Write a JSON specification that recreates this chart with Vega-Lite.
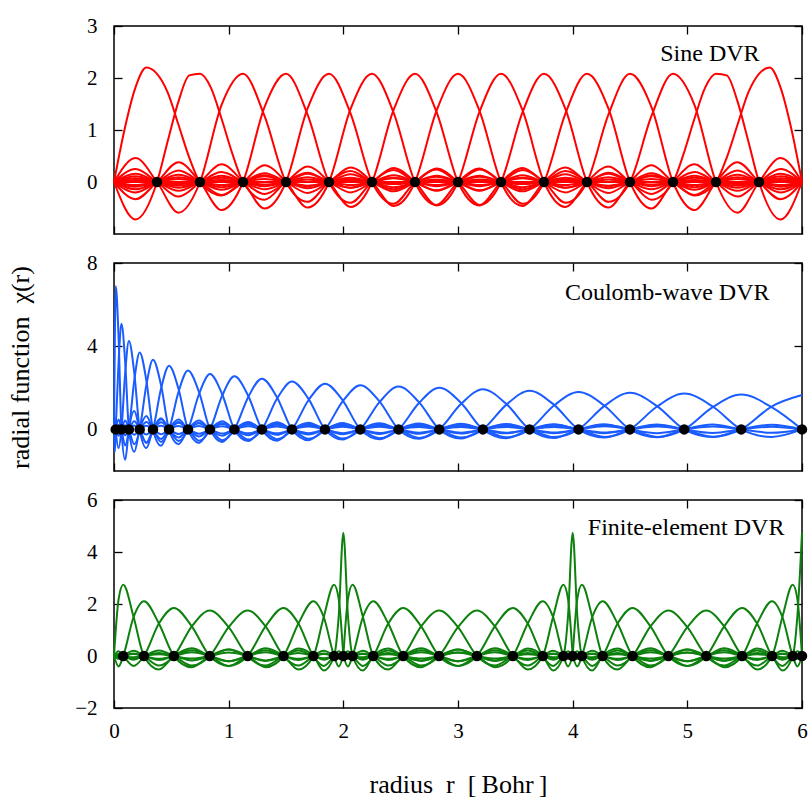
{
"padding": {"left": 6, "top": 14, "right": 4, "bottom": 4},
"config": {
 "view": {"stroke": "#000", "strokeWidth": 1.5},
 "font": "Liberation Serif",
 "axis": {"labelFont": "Liberation Serif", "titleFont": "Liberation Serif", "labelColor": "#000", "titleColor": "#000", "grid": false, "domain": false, "tickColor": "#000", "tickSize": -8, "tickWidth": 1.3, "labelFontSize": 21, "titleFontSize": 26, "titleFontWeight": "normal", "labelFlush": false}
},
"datasets": {
"s": [
{"f":1,"x":0,"y":0},{"f":1,"x":0.0938,"y":1.03},{"f":1,"x":0.1875,"y":1.82},{"f":1,"x":0.2813,"y":2.2},{"f":1,"x":0.375,"y":2.08},{"f":1,"x":0.4688,"y":1.72},{"f":1,"x":0.5625,"y":1.1},{"f":1,"x":0.6563,"y":0.47},{"f":1,"x":0.75,"y":0},{"f":1,"x":0.9375,"y":-0.26},{"f":1,"x":1.125,"y":0},{"f":1,"x":1.3125,"y":0.13},{"f":1,"x":1.5,"y":0},{"f":1,"x":1.6875,"y":-0.08},{"f":1,"x":1.875,"y":0},{"f":1,"x":2.0625,"y":0.05},{"f":1,"x":2.25,"y":0},{"f":1,"x":2.4375,"y":-0.04},{"f":1,"x":2.625,"y":0},{"f":1,"x":2.8125,"y":0.03},{"f":1,"x":3,"y":0},{"f":1,"x":6,"y":0},
{"f":2,"x":0,"y":0},{"f":2,"x":0.1875,"y":-0.72},{"f":2,"x":0.375,"y":0},{"f":2,"x":0.4688,"y":0.79},{"f":2,"x":0.5625,"y":1.55},{"f":2,"x":0.6563,"y":2.05},{"f":2,"x":0.75,"y":2.08},{"f":2,"x":0.8438,"y":1.82},{"f":2,"x":0.9375,"y":1.22},{"f":2,"x":1.0313,"y":0.55},{"f":2,"x":1.125,"y":0},{"f":2,"x":1.3125,"y":-0.34},{"f":2,"x":1.5,"y":0},{"f":2,"x":1.6875,"y":0.18},{"f":2,"x":1.875,"y":0},{"f":2,"x":2.0625,"y":-0.11},{"f":2,"x":2.25,"y":0},{"f":2,"x":2.4375,"y":0.08},{"f":2,"x":2.625,"y":0},{"f":2,"x":2.8125,"y":-0.06},{"f":2,"x":3,"y":0},{"f":2,"x":3.1875,"y":0.05},{"f":2,"x":3.375,"y":0},{"f":2,"x":3.5625,"y":-0.04},{"f":2,"x":3.75,"y":0},{"f":2,"x":3.9375,"y":0.04},{"f":2,"x":4.125,"y":0},{"f":2,"x":6,"y":0},
{"f":3,"x":0,"y":0},{"f":3,"x":0.1875,"y":0.46},{"f":3,"x":0.375,"y":0},{"f":3,"x":0.5625,"y":-0.59},{"f":3,"x":0.75,"y":0},{"f":3,"x":0.9375,"y":1.48},{"f":3,"x":1.125,"y":2.08},{"f":3,"x":1.3125,"y":1.27},{"f":3,"x":1.5,"y":0},{"f":3,"x":1.6875,"y":-0.38},{"f":3,"x":1.875,"y":0},{"f":3,"x":2.0625,"y":0.21},{"f":3,"x":2.25,"y":0},{"f":3,"x":2.4375,"y":-0.14},{"f":3,"x":2.625,"y":0},{"f":3,"x":2.8125,"y":0.1},{"f":3,"x":3,"y":0},{"f":3,"x":3.1875,"y":-0.08},{"f":3,"x":3.375,"y":0},{"f":3,"x":3.5625,"y":0.07},{"f":3,"x":3.75,"y":0},{"f":3,"x":3.9375,"y":-0.06},{"f":3,"x":4.125,"y":0},{"f":3,"x":4.3125,"y":0.05},{"f":3,"x":4.5,"y":0},{"f":3,"x":4.6875,"y":-0.05},{"f":3,"x":4.875,"y":0},{"f":3,"x":5.0625,"y":0.04},{"f":3,"x":5.25,"y":0},{"f":3,"x":5.4375,"y":-0.04},{"f":3,"x":5.625,"y":0},{"f":3,"x":5.8125,"y":0.04},{"f":3,"x":6,"y":0},
{"f":4,"x":0,"y":0},{"f":4,"x":0.1875,"y":-0.33},{"f":4,"x":0.375,"y":0},{"f":4,"x":0.5625,"y":0.38},{"f":4,"x":0.75,"y":0},{"f":4,"x":0.9375,"y":-0.54},{"f":4,"x":1.125,"y":0},{"f":4,"x":1.3125,"y":1.44},{"f":4,"x":1.5,"y":2.08},{"f":4,"x":1.6875,"y":1.3},{"f":4,"x":1.875,"y":0},{"f":4,"x":2.0625,"y":-0.4},{"f":4,"x":2.25,"y":0},{"f":4,"x":2.4375,"y":0.23},{"f":4,"x":2.625,"y":0},{"f":4,"x":2.8125,"y":-0.16},{"f":4,"x":3,"y":0},{"f":4,"x":3.1875,"y":0.12},{"f":4,"x":3.375,"y":0},{"f":4,"x":3.5625,"y":-0.1},{"f":4,"x":3.75,"y":0},{"f":4,"x":3.9375,"y":0.08},{"f":4,"x":4.125,"y":0},{"f":4,"x":4.3125,"y":-0.07},{"f":4,"x":4.5,"y":0},{"f":4,"x":4.6875,"y":0.06},{"f":4,"x":4.875,"y":0},{"f":4,"x":5.0625,"y":-0.06},{"f":4,"x":5.25,"y":0},{"f":4,"x":5.4375,"y":0.06},{"f":4,"x":5.625,"y":0},{"f":4,"x":5.8125,"y":-0.06},{"f":4,"x":6,"y":0},
{"f":5,"x":0,"y":0},{"f":5,"x":0.1875,"y":0.25},{"f":5,"x":0.375,"y":0},{"f":5,"x":0.5625,"y":-0.28},{"f":5,"x":0.75,"y":0},{"f":5,"x":0.9375,"y":0.34},{"f":5,"x":1.125,"y":0},{"f":5,"x":1.3125,"y":-0.51},{"f":5,"x":1.5,"y":0},{"f":5,"x":1.6875,"y":1.41},{"f":5,"x":1.875,"y":2.08},{"f":5,"x":2.0625,"y":1.32},{"f":5,"x":2.25,"y":0},{"f":5,"x":2.4375,"y":-0.42},{"f":5,"x":2.625,"y":0},{"f":5,"x":2.8125,"y":0.24},{"f":5,"x":3,"y":0},{"f":5,"x":3.1875,"y":-0.17},{"f":5,"x":3.375,"y":0},{"f":5,"x":3.5625,"y":0.13},{"f":5,"x":3.75,"y":0},{"f":5,"x":3.9375,"y":-0.11},{"f":5,"x":4.125,"y":0},{"f":5,"x":4.3125,"y":0.09},{"f":5,"x":4.5,"y":0},{"f":5,"x":4.6875,"y":-0.08},{"f":5,"x":4.875,"y":0},{"f":5,"x":5.0625,"y":0.08},{"f":5,"x":5.25,"y":0},{"f":5,"x":5.4375,"y":-0.07},{"f":5,"x":5.625,"y":0},{"f":5,"x":5.8125,"y":0.07},{"f":5,"x":6,"y":0},
{"f":6,"x":0,"y":0},{"f":6,"x":0.1875,"y":-0.2},{"f":6,"x":0.375,"y":0},{"f":6,"x":0.5625,"y":0.22},{"f":6,"x":0.75,"y":0},{"f":6,"x":0.9375,"y":-0.25},{"f":6,"x":1.125,"y":0},{"f":6,"x":1.3125,"y":0.32},{"f":6,"x":1.5,"y":0},{"f":6,"x":1.6875,"y":-0.49},{"f":6,"x":1.875,"y":0},{"f":6,"x":2.0625,"y":1.4},{"f":6,"x":2.25,"y":2.08},{"f":6,"x":2.4375,"y":1.34},{"f":6,"x":2.625,"y":0},{"f":6,"x":2.8125,"y":-0.44},{"f":6,"x":3,"y":0},{"f":6,"x":3.1875,"y":0.26},{"f":6,"x":3.375,"y":0},{"f":6,"x":3.5625,"y":-0.18},{"f":6,"x":3.75,"y":0},{"f":6,"x":3.9375,"y":0.15},{"f":6,"x":4.125,"y":0},{"f":6,"x":4.3125,"y":-0.12},{"f":6,"x":4.5,"y":0},{"f":6,"x":4.6875,"y":0.11},{"f":6,"x":4.875,"y":0},{"f":6,"x":5.0625,"y":-0.1},{"f":6,"x":5.25,"y":0},{"f":6,"x":5.4375,"y":0.09},{"f":6,"x":5.625,"y":0},{"f":6,"x":5.8125,"y":-0.09},{"f":6,"x":6,"y":0},
{"f":7,"x":0,"y":0},{"f":7,"x":0.1875,"y":0.16},{"f":7,"x":0.375,"y":0},{"f":7,"x":0.5625,"y":-0.17},{"f":7,"x":0.75,"y":0},{"f":7,"x":0.9375,"y":0.19},{"f":7,"x":1.125,"y":0},{"f":7,"x":1.3125,"y":-0.23},{"f":7,"x":1.5,"y":0},{"f":7,"x":1.6875,"y":0.3},{"f":7,"x":1.875,"y":0},{"f":7,"x":2.0625,"y":-0.48},{"f":7,"x":2.25,"y":0},{"f":7,"x":2.4375,"y":1.38},{"f":7,"x":2.625,"y":2.08},{"f":7,"x":2.8125,"y":1.35},{"f":7,"x":3,"y":0},{"f":7,"x":3.1875,"y":-0.45},{"f":7,"x":3.375,"y":0},{"f":7,"x":3.5625,"y":0.27},{"f":7,"x":3.75,"y":0},{"f":7,"x":3.9375,"y":-0.2},{"f":7,"x":4.125,"y":0},{"f":7,"x":4.3125,"y":0.16},{"f":7,"x":4.5,"y":0},{"f":7,"x":4.6875,"y":-0.14},{"f":7,"x":4.875,"y":0},{"f":7,"x":5.0625,"y":0.12},{"f":7,"x":5.25,"y":0},{"f":7,"x":5.4375,"y":-0.11},{"f":7,"x":5.625,"y":0},{"f":7,"x":5.8125,"y":0.11},{"f":7,"x":6,"y":0},
{"f":8,"x":0,"y":0},{"f":8,"x":0.1875,"y":-0.14},{"f":8,"x":0.375,"y":0},{"f":8,"x":0.5625,"y":0.14},{"f":8,"x":0.75,"y":0},{"f":8,"x":0.9375,"y":-0.15},{"f":8,"x":1.125,"y":0},{"f":8,"x":1.3125,"y":0.17},{"f":8,"x":1.5,"y":0},{"f":8,"x":1.6875,"y":-0.21},{"f":8,"x":1.875,"y":0},{"f":8,"x":2.0625,"y":0.28},{"f":8,"x":2.25,"y":0},{"f":8,"x":2.4375,"y":-0.46},{"f":8,"x":2.625,"y":0},{"f":8,"x":2.8125,"y":1.37},{"f":8,"x":3,"y":2.08},{"f":8,"x":3.1875,"y":1.37},{"f":8,"x":3.375,"y":0},{"f":8,"x":3.5625,"y":-0.46},{"f":8,"x":3.75,"y":0},{"f":8,"x":3.9375,"y":0.28},{"f":8,"x":4.125,"y":0},{"f":8,"x":4.3125,"y":-0.21},{"f":8,"x":4.5,"y":0},{"f":8,"x":4.6875,"y":0.17},{"f":8,"x":4.875,"y":0},{"f":8,"x":5.0625,"y":-0.15},{"f":8,"x":5.25,"y":0},{"f":8,"x":5.4375,"y":0.14},{"f":8,"x":5.625,"y":0},{"f":8,"x":5.8125,"y":-0.14},{"f":8,"x":6,"y":0},
{"f":9,"x":0,"y":0},{"f":9,"x":0.1875,"y":0.11},{"f":9,"x":0.375,"y":0},{"f":9,"x":0.5625,"y":-0.11},{"f":9,"x":0.75,"y":0},{"f":9,"x":0.9375,"y":0.12},{"f":9,"x":1.125,"y":0},{"f":9,"x":1.3125,"y":-0.14},{"f":9,"x":1.5,"y":0},{"f":9,"x":1.6875,"y":0.16},{"f":9,"x":1.875,"y":0},{"f":9,"x":2.0625,"y":-0.2},{"f":9,"x":2.25,"y":0},{"f":9,"x":2.4375,"y":0.27},{"f":9,"x":2.625,"y":0},{"f":9,"x":2.8125,"y":-0.45},{"f":9,"x":3,"y":0},{"f":9,"x":3.1875,"y":1.35},{"f":9,"x":3.375,"y":2.08},{"f":9,"x":3.5625,"y":1.38},{"f":9,"x":3.75,"y":0},{"f":9,"x":3.9375,"y":-0.48},{"f":9,"x":4.125,"y":0},{"f":9,"x":4.3125,"y":0.3},{"f":9,"x":4.5,"y":0},{"f":9,"x":4.6875,"y":-0.23},{"f":9,"x":4.875,"y":0},{"f":9,"x":5.0625,"y":0.19},{"f":9,"x":5.25,"y":0},{"f":9,"x":5.4375,"y":-0.17},{"f":9,"x":5.625,"y":0},{"f":9,"x":5.8125,"y":0.16},{"f":9,"x":6,"y":0},
{"f":10,"x":0,"y":0},{"f":10,"x":0.1875,"y":-0.09},{"f":10,"x":0.375,"y":0},{"f":10,"x":0.5625,"y":0.09},{"f":10,"x":0.75,"y":0},{"f":10,"x":0.9375,"y":-0.1},{"f":10,"x":1.125,"y":0},{"f":10,"x":1.3125,"y":0.11},{"f":10,"x":1.5,"y":0},{"f":10,"x":1.6875,"y":-0.12},{"f":10,"x":1.875,"y":0},{"f":10,"x":2.0625,"y":0.15},{"f":10,"x":2.25,"y":0},{"f":10,"x":2.4375,"y":-0.18},{"f":10,"x":2.625,"y":0},{"f":10,"x":2.8125,"y":0.26},{"f":10,"x":3,"y":0},{"f":10,"x":3.1875,"y":-0.44},{"f":10,"x":3.375,"y":0},{"f":10,"x":3.5625,"y":1.34},{"f":10,"x":3.75,"y":2.08},{"f":10,"x":3.9375,"y":1.4},{"f":10,"x":4.125,"y":0},{"f":10,"x":4.3125,"y":-0.49},{"f":10,"x":4.5,"y":0},{"f":10,"x":4.6875,"y":0.32},{"f":10,"x":4.875,"y":0},{"f":10,"x":5.0625,"y":-0.25},{"f":10,"x":5.25,"y":0},{"f":10,"x":5.4375,"y":0.22},{"f":10,"x":5.625,"y":0},{"f":10,"x":5.8125,"y":-0.2},{"f":10,"x":6,"y":0},
{"f":11,"x":0,"y":0},{"f":11,"x":0.1875,"y":0.07},{"f":11,"x":0.375,"y":0},{"f":11,"x":0.5625,"y":-0.07},{"f":11,"x":0.75,"y":0},{"f":11,"x":0.9375,"y":0.08},{"f":11,"x":1.125,"y":0},{"f":11,"x":1.3125,"y":-0.08},{"f":11,"x":1.5,"y":0},{"f":11,"x":1.6875,"y":0.09},{"f":11,"x":1.875,"y":0},{"f":11,"x":2.0625,"y":-0.11},{"f":11,"x":2.25,"y":0},{"f":11,"x":2.4375,"y":0.13},{"f":11,"x":2.625,"y":0},{"f":11,"x":2.8125,"y":-0.17},{"f":11,"x":3,"y":0},{"f":11,"x":3.1875,"y":0.24},{"f":11,"x":3.375,"y":0},{"f":11,"x":3.5625,"y":-0.42},{"f":11,"x":3.75,"y":0},{"f":11,"x":3.9375,"y":1.32},{"f":11,"x":4.125,"y":2.08},{"f":11,"x":4.3125,"y":1.41},{"f":11,"x":4.5,"y":0},{"f":11,"x":4.6875,"y":-0.51},{"f":11,"x":4.875,"y":0},{"f":11,"x":5.0625,"y":0.34},{"f":11,"x":5.25,"y":0},{"f":11,"x":5.4375,"y":-0.28},{"f":11,"x":5.625,"y":0},{"f":11,"x":5.8125,"y":0.25},{"f":11,"x":6,"y":0},
{"f":12,"x":0,"y":0},{"f":12,"x":0.1875,"y":-0.06},{"f":12,"x":0.375,"y":0},{"f":12,"x":0.5625,"y":0.06},{"f":12,"x":0.75,"y":0},{"f":12,"x":0.9375,"y":-0.06},{"f":12,"x":1.125,"y":0},{"f":12,"x":1.3125,"y":0.06},{"f":12,"x":1.5,"y":0},{"f":12,"x":1.6875,"y":-0.07},{"f":12,"x":1.875,"y":0},{"f":12,"x":2.0625,"y":0.08},{"f":12,"x":2.25,"y":0},{"f":12,"x":2.4375,"y":-0.1},{"f":12,"x":2.625,"y":0},{"f":12,"x":2.8125,"y":0.12},{"f":12,"x":3,"y":0},{"f":12,"x":3.1875,"y":-0.16},{"f":12,"x":3.375,"y":0},{"f":12,"x":3.5625,"y":0.23},{"f":12,"x":3.75,"y":0},{"f":12,"x":3.9375,"y":-0.4},{"f":12,"x":4.125,"y":0},{"f":12,"x":4.3125,"y":1.3},{"f":12,"x":4.5,"y":2.08},{"f":12,"x":4.6875,"y":1.44},{"f":12,"x":4.875,"y":0},{"f":12,"x":5.0625,"y":-0.54},{"f":12,"x":5.25,"y":0},{"f":12,"x":5.4375,"y":0.38},{"f":12,"x":5.625,"y":0},{"f":12,"x":5.8125,"y":-0.33},{"f":12,"x":6,"y":0},
{"f":13,"x":0,"y":0},{"f":13,"x":0.1875,"y":0.04},{"f":13,"x":0.375,"y":0},{"f":13,"x":0.5625,"y":-0.04},{"f":13,"x":0.75,"y":0},{"f":13,"x":0.9375,"y":0.04},{"f":13,"x":1.125,"y":0},{"f":13,"x":1.3125,"y":-0.05},{"f":13,"x":1.5,"y":0},{"f":13,"x":1.6875,"y":0.05},{"f":13,"x":1.875,"y":0},{"f":13,"x":2.0625,"y":-0.06},{"f":13,"x":2.25,"y":0},{"f":13,"x":2.4375,"y":0.07},{"f":13,"x":2.625,"y":0},{"f":13,"x":2.8125,"y":-0.08},{"f":13,"x":3,"y":0},{"f":13,"x":3.1875,"y":0.1},{"f":13,"x":3.375,"y":0},{"f":13,"x":3.5625,"y":-0.14},{"f":13,"x":3.75,"y":0},{"f":13,"x":3.9375,"y":0.21},{"f":13,"x":4.125,"y":0},{"f":13,"x":4.3125,"y":-0.38},{"f":13,"x":4.5,"y":0},{"f":13,"x":4.6875,"y":1.27},{"f":13,"x":4.875,"y":2.08},{"f":13,"x":5.0625,"y":1.48},{"f":13,"x":5.25,"y":0},{"f":13,"x":5.4375,"y":-0.59},{"f":13,"x":5.625,"y":0},{"f":13,"x":5.8125,"y":0.46},{"f":13,"x":6,"y":0},
{"f":14,"x":0,"y":0},{"f":14,"x":1.875,"y":0},{"f":14,"x":2.0625,"y":0.04},{"f":14,"x":2.25,"y":0},{"f":14,"x":2.4375,"y":-0.04},{"f":14,"x":2.625,"y":0},{"f":14,"x":2.8125,"y":0.05},{"f":14,"x":3,"y":0},{"f":14,"x":3.1875,"y":-0.06},{"f":14,"x":3.375,"y":0},{"f":14,"x":3.5625,"y":0.08},{"f":14,"x":3.75,"y":0},{"f":14,"x":3.9375,"y":-0.11},{"f":14,"x":4.125,"y":0},{"f":14,"x":4.3125,"y":0.18},{"f":14,"x":4.5,"y":0},{"f":14,"x":4.6875,"y":-0.34},{"f":14,"x":4.875,"y":0},{"f":14,"x":4.9688,"y":0.55},{"f":14,"x":5.0625,"y":1.22},{"f":14,"x":5.1563,"y":1.82},{"f":14,"x":5.25,"y":2.08},{"f":14,"x":5.3438,"y":2.05},{"f":14,"x":5.4375,"y":1.55},{"f":14,"x":5.5313,"y":0.79},{"f":14,"x":5.625,"y":0},{"f":14,"x":5.8125,"y":-0.72},{"f":14,"x":6,"y":0},
{"f":15,"x":0,"y":0},{"f":15,"x":3,"y":0},{"f":15,"x":3.1875,"y":0.03},{"f":15,"x":3.375,"y":0},{"f":15,"x":3.5625,"y":-0.04},{"f":15,"x":3.75,"y":0},{"f":15,"x":3.9375,"y":0.05},{"f":15,"x":4.125,"y":0},{"f":15,"x":4.3125,"y":-0.08},{"f":15,"x":4.5,"y":0},{"f":15,"x":4.6875,"y":0.13},{"f":15,"x":4.875,"y":0},{"f":15,"x":5.0625,"y":-0.26},{"f":15,"x":5.25,"y":0},{"f":15,"x":5.3438,"y":0.47},{"f":15,"x":5.4375,"y":1.1},{"f":15,"x":5.5313,"y":1.72},{"f":15,"x":5.625,"y":2.08},{"f":15,"x":5.7188,"y":2.2},{"f":15,"x":5.8125,"y":1.82},{"f":15,"x":5.9063,"y":1.03},{"f":15,"x":6,"y":0}
],
"sg": [{"x":0.375,"y":0},{"x":0.75,"y":0},{"x":1.125,"y":0},{"x":1.5,"y":0},{"x":1.875,"y":0},{"x":2.25,"y":0},{"x":2.625,"y":0},{"x":3,"y":0},{"x":3.375,"y":0},{"x":3.75,"y":0},{"x":4.125,"y":0},{"x":4.5,"y":0},{"x":4.875,"y":0},{"x":5.25,"y":0},{"x":5.625,"y":0}],
"c": [
{"f":1,"x":0,"y":0},{"f":1,"x":0.0075,"y":4.4},{"f":1,"x":0.015,"y":6.9},{"f":1,"x":0.04,"y":4.4},{"f":1,"x":0.065,"y":0},{"f":1,"x":0.0975,"y":-1.46},{"f":1,"x":0.13,"y":0},{"f":1,"x":0.177,"y":0.88},{"f":1,"x":0.224,"y":0},{"f":1,"x":0.282,"y":-0.63},{"f":1,"x":0.34,"y":0},{"f":1,"x":0.41,"y":0.49},{"f":1,"x":0.48,"y":0},
{"f":2,"x":0,"y":0},{"f":2,"x":0.0075,"y":-1.08},{"f":2,"x":0.015,"y":0},{"f":2,"x":0.04,"y":3.24},{"f":2,"x":0.065,"y":5.08},{"f":2,"x":0.0975,"y":3.24},{"f":2,"x":0.13,"y":0},{"f":2,"x":0.177,"y":-1.08},{"f":2,"x":0.224,"y":0},{"f":2,"x":0.282,"y":0.65},{"f":2,"x":0.34,"y":0},{"f":2,"x":0.41,"y":-0.46},{"f":2,"x":0.48,"y":0},{"f":2,"x":0.5625,"y":0.36},{"f":2,"x":0.645,"y":0},
{"f":3,"x":0,"y":0},{"f":3,"x":0.0075,"y":0.54},{"f":3,"x":0.015,"y":0},{"f":3,"x":0.04,"y":-0.9},{"f":3,"x":0.065,"y":0},{"f":3,"x":0.0975,"y":2.71},{"f":3,"x":0.13,"y":4.25},{"f":3,"x":0.177,"y":2.71},{"f":3,"x":0.224,"y":0},{"f":3,"x":0.282,"y":-0.9},{"f":3,"x":0.34,"y":0},{"f":3,"x":0.41,"y":0.54},{"f":3,"x":0.48,"y":0},{"f":3,"x":0.5625,"y":-0.39},{"f":3,"x":0.645,"y":0},{"f":3,"x":0.741,"y":0.3},{"f":3,"x":0.837,"y":0},
{"f":4,"x":0.015,"y":0},{"f":4,"x":0.04,"y":0.47},{"f":4,"x":0.065,"y":0},{"f":4,"x":0.0975,"y":-0.78},{"f":4,"x":0.13,"y":0},{"f":4,"x":0.177,"y":2.36},{"f":4,"x":0.224,"y":3.7},{"f":4,"x":0.282,"y":2.36},{"f":4,"x":0.34,"y":0},{"f":4,"x":0.41,"y":-0.78},{"f":4,"x":0.48,"y":0},{"f":4,"x":0.5625,"y":0.47},{"f":4,"x":0.645,"y":0},{"f":4,"x":0.741,"y":-0.34},{"f":4,"x":0.837,"y":0},{"f":4,"x":0.9435,"y":0.26},{"f":4,"x":1.05,"y":0},
{"f":5,"x":0.015,"y":0},{"f":5,"x":0.04,"y":-0.3},{"f":5,"x":0.065,"y":0},{"f":5,"x":0.0975,"y":0.43},{"f":5,"x":0.13,"y":0},{"f":5,"x":0.177,"y":-0.71},{"f":5,"x":0.224,"y":0},{"f":5,"x":0.282,"y":2.13},{"f":5,"x":0.34,"y":3.35},{"f":5,"x":0.41,"y":2.13},{"f":5,"x":0.48,"y":0},{"f":5,"x":0.5625,"y":-0.71},{"f":5,"x":0.645,"y":0},{"f":5,"x":0.741,"y":0.43},{"f":5,"x":0.837,"y":0},{"f":5,"x":0.9435,"y":-0.3},{"f":5,"x":1.05,"y":0},{"f":5,"x":1.17,"y":0.24},{"f":5,"x":1.29,"y":0},
{"f":6,"x":0.015,"y":0},{"f":6,"x":0.04,"y":0.22},{"f":6,"x":0.065,"y":0},{"f":6,"x":0.0975,"y":-0.28},{"f":6,"x":0.13,"y":0},{"f":6,"x":0.177,"y":0.39},{"f":6,"x":0.224,"y":0},{"f":6,"x":0.282,"y":-0.65},{"f":6,"x":0.34,"y":0},{"f":6,"x":0.41,"y":1.95},{"f":6,"x":0.48,"y":3.06},{"f":6,"x":0.5625,"y":1.95},{"f":6,"x":0.645,"y":0},{"f":6,"x":0.741,"y":-0.65},{"f":6,"x":0.837,"y":0},{"f":6,"x":0.9435,"y":0.39},{"f":6,"x":1.05,"y":0},{"f":6,"x":1.17,"y":-0.28},{"f":6,"x":1.29,"y":0},{"f":6,"x":1.421,"y":0.22},{"f":6,"x":1.552,"y":0},
{"f":7,"x":0.065,"y":0},{"f":7,"x":0.0975,"y":0.2},{"f":7,"x":0.13,"y":0},{"f":7,"x":0.177,"y":-0.26},{"f":7,"x":0.224,"y":0},{"f":7,"x":0.282,"y":0.36},{"f":7,"x":0.34,"y":0},{"f":7,"x":0.41,"y":-0.6},{"f":7,"x":0.48,"y":0},{"f":7,"x":0.5625,"y":1.8},{"f":7,"x":0.645,"y":2.83},{"f":7,"x":0.741,"y":1.8},{"f":7,"x":0.837,"y":0},{"f":7,"x":0.9435,"y":-0.6},{"f":7,"x":1.05,"y":0},{"f":7,"x":1.17,"y":0.36},{"f":7,"x":1.29,"y":0},{"f":7,"x":1.421,"y":-0.26},{"f":7,"x":1.552,"y":0},{"f":7,"x":1.696,"y":0.2},{"f":7,"x":1.84,"y":0},
{"f":8,"x":0.13,"y":0},{"f":8,"x":0.177,"y":0.19},{"f":8,"x":0.224,"y":0},{"f":8,"x":0.282,"y":-0.24},{"f":8,"x":0.34,"y":0},{"f":8,"x":0.41,"y":0.34},{"f":8,"x":0.48,"y":0},{"f":8,"x":0.5625,"y":-0.56},{"f":8,"x":0.645,"y":0},{"f":8,"x":0.741,"y":1.69},{"f":8,"x":0.837,"y":2.66},{"f":8,"x":0.9435,"y":1.69},{"f":8,"x":1.05,"y":0},{"f":8,"x":1.17,"y":-0.56},{"f":8,"x":1.29,"y":0},{"f":8,"x":1.421,"y":0.34},{"f":8,"x":1.552,"y":0},{"f":8,"x":1.696,"y":-0.24},{"f":8,"x":1.84,"y":0},{"f":8,"x":1.994,"y":0.19},{"f":8,"x":2.148,"y":0},
{"f":9,"x":0.224,"y":0},{"f":9,"x":0.282,"y":0.18},{"f":9,"x":0.34,"y":0},{"f":9,"x":0.41,"y":-0.23},{"f":9,"x":0.48,"y":0},{"f":9,"x":0.5625,"y":0.32},{"f":9,"x":0.645,"y":0},{"f":9,"x":0.741,"y":-0.54},{"f":9,"x":0.837,"y":0},{"f":9,"x":0.9435,"y":1.62},{"f":9,"x":1.05,"y":2.55},{"f":9,"x":1.17,"y":1.62},{"f":9,"x":1.29,"y":0},{"f":9,"x":1.421,"y":-0.54},{"f":9,"x":1.552,"y":0},{"f":9,"x":1.696,"y":0.32},{"f":9,"x":1.84,"y":0},{"f":9,"x":1.994,"y":-0.23},{"f":9,"x":2.148,"y":0},{"f":9,"x":2.315,"y":0.18},{"f":9,"x":2.482,"y":0},
{"f":10,"x":0.34,"y":0},{"f":10,"x":0.41,"y":0.17},{"f":10,"x":0.48,"y":0},{"f":10,"x":0.5625,"y":-0.22},{"f":10,"x":0.645,"y":0},{"f":10,"x":0.741,"y":0.31},{"f":10,"x":0.837,"y":0},{"f":10,"x":0.9435,"y":-0.52},{"f":10,"x":1.05,"y":0},{"f":10,"x":1.17,"y":1.55},{"f":10,"x":1.29,"y":2.44},{"f":10,"x":1.421,"y":1.55},{"f":10,"x":1.552,"y":0},{"f":10,"x":1.696,"y":-0.52},{"f":10,"x":1.84,"y":0},{"f":10,"x":1.994,"y":0.31},{"f":10,"x":2.148,"y":0},{"f":10,"x":2.315,"y":-0.22},{"f":10,"x":2.482,"y":0},{"f":10,"x":2.6595,"y":0.17},{"f":10,"x":2.837,"y":0},
{"f":11,"x":0.48,"y":0},{"f":11,"x":0.5625,"y":0.16},{"f":11,"x":0.645,"y":0},{"f":11,"x":0.741,"y":-0.21},{"f":11,"x":0.837,"y":0},{"f":11,"x":0.9435,"y":0.29},{"f":11,"x":1.05,"y":0},{"f":11,"x":1.17,"y":-0.49},{"f":11,"x":1.29,"y":0},{"f":11,"x":1.421,"y":1.47},{"f":11,"x":1.552,"y":2.3},{"f":11,"x":1.696,"y":1.47},{"f":11,"x":1.84,"y":0},{"f":11,"x":1.994,"y":-0.49},{"f":11,"x":2.148,"y":0},{"f":11,"x":2.315,"y":0.29},{"f":11,"x":2.482,"y":0},{"f":11,"x":2.6595,"y":-0.21},{"f":11,"x":2.837,"y":0},{"f":11,"x":3.027,"y":0.16},{"f":11,"x":3.217,"y":0},
{"f":12,"x":0.645,"y":0},{"f":12,"x":0.741,"y":0.16},{"f":12,"x":0.837,"y":0},{"f":12,"x":0.9435,"y":-0.2},{"f":12,"x":1.05,"y":0},{"f":12,"x":1.17,"y":0.28},{"f":12,"x":1.29,"y":0},{"f":12,"x":1.421,"y":-0.47},{"f":12,"x":1.552,"y":0},{"f":12,"x":1.696,"y":1.4},{"f":12,"x":1.84,"y":2.2},{"f":12,"x":1.994,"y":1.4},{"f":12,"x":2.148,"y":0},{"f":12,"x":2.315,"y":-0.47},{"f":12,"x":2.482,"y":0},{"f":12,"x":2.6595,"y":0.28},{"f":12,"x":2.837,"y":0},{"f":12,"x":3.027,"y":-0.2},{"f":12,"x":3.217,"y":0},{"f":12,"x":3.4205,"y":0.16},{"f":12,"x":3.624,"y":0},
{"f":13,"x":0.837,"y":0},{"f":13,"x":0.9435,"y":0.15},{"f":13,"x":1.05,"y":0},{"f":13,"x":1.17,"y":-0.19},{"f":13,"x":1.29,"y":0},{"f":13,"x":1.421,"y":0.27},{"f":13,"x":1.552,"y":0},{"f":13,"x":1.696,"y":-0.45},{"f":13,"x":1.84,"y":0},{"f":13,"x":1.994,"y":1.35},{"f":13,"x":2.148,"y":2.12},{"f":13,"x":2.315,"y":1.35},{"f":13,"x":2.482,"y":0},{"f":13,"x":2.6595,"y":-0.45},{"f":13,"x":2.837,"y":0},{"f":13,"x":3.027,"y":0.27},{"f":13,"x":3.217,"y":0},{"f":13,"x":3.4205,"y":-0.19},{"f":13,"x":3.624,"y":0},{"f":13,"x":3.8375,"y":0.15},{"f":13,"x":4.051,"y":0},
{"f":14,"x":1.05,"y":0},{"f":14,"x":1.17,"y":0.15},{"f":14,"x":1.29,"y":0},{"f":14,"x":1.421,"y":-0.19},{"f":14,"x":1.552,"y":0},{"f":14,"x":1.696,"y":0.26},{"f":14,"x":1.84,"y":0},{"f":14,"x":1.994,"y":-0.44},{"f":14,"x":2.148,"y":0},{"f":14,"x":2.315,"y":1.31},{"f":14,"x":2.482,"y":2.06},{"f":14,"x":2.6595,"y":1.31},{"f":14,"x":2.837,"y":0},{"f":14,"x":3.027,"y":-0.44},{"f":14,"x":3.217,"y":0},{"f":14,"x":3.4205,"y":0.26},{"f":14,"x":3.624,"y":0},{"f":14,"x":3.8375,"y":-0.19},{"f":14,"x":4.051,"y":0},{"f":14,"x":4.275,"y":0.15},{"f":14,"x":4.499,"y":0},
{"f":15,"x":1.29,"y":0},{"f":15,"x":1.421,"y":0.14},{"f":15,"x":1.552,"y":0},{"f":15,"x":1.696,"y":-0.18},{"f":15,"x":1.84,"y":0},{"f":15,"x":1.994,"y":0.25},{"f":15,"x":2.148,"y":0},{"f":15,"x":2.315,"y":-0.42},{"f":15,"x":2.482,"y":0},{"f":15,"x":2.6595,"y":1.27},{"f":15,"x":2.837,"y":2.0},{"f":15,"x":3.027,"y":1.27},{"f":15,"x":3.217,"y":0},{"f":15,"x":3.4205,"y":-0.42},{"f":15,"x":3.624,"y":0},{"f":15,"x":3.8375,"y":0.25},{"f":15,"x":4.051,"y":0},{"f":15,"x":4.275,"y":-0.18},{"f":15,"x":4.499,"y":0},{"f":15,"x":4.736,"y":0.14},{"f":15,"x":4.973,"y":0},
{"f":16,"x":1.552,"y":0},{"f":16,"x":1.696,"y":0.14},{"f":16,"x":1.84,"y":0},{"f":16,"x":1.994,"y":-0.18},{"f":16,"x":2.148,"y":0},{"f":16,"x":2.315,"y":0.25},{"f":16,"x":2.482,"y":0},{"f":16,"x":2.6595,"y":-0.41},{"f":16,"x":2.837,"y":0},{"f":16,"x":3.027,"y":1.23},{"f":16,"x":3.217,"y":1.93},{"f":16,"x":3.4205,"y":1.23},{"f":16,"x":3.624,"y":0},{"f":16,"x":3.8375,"y":-0.41},{"f":16,"x":4.051,"y":0},{"f":16,"x":4.275,"y":0.25},{"f":16,"x":4.499,"y":0},{"f":16,"x":4.736,"y":-0.18},{"f":16,"x":4.973,"y":0},{"f":16,"x":5.2215,"y":0.14},{"f":16,"x":5.47,"y":0},
{"f":17,"x":1.84,"y":0},{"f":17,"x":1.994,"y":0.13},{"f":17,"x":2.148,"y":0},{"f":17,"x":2.315,"y":-0.17},{"f":17,"x":2.482,"y":0},{"f":17,"x":2.6595,"y":0.24},{"f":17,"x":2.837,"y":0},{"f":17,"x":3.027,"y":-0.39},{"f":17,"x":3.217,"y":0},{"f":17,"x":3.4205,"y":1.18},{"f":17,"x":3.624,"y":1.86},{"f":17,"x":3.8375,"y":1.18},{"f":17,"x":4.051,"y":0},{"f":17,"x":4.275,"y":-0.39},{"f":17,"x":4.499,"y":0},{"f":17,"x":4.736,"y":0.24},{"f":17,"x":4.973,"y":0},{"f":17,"x":5.2215,"y":-0.17},{"f":17,"x":5.47,"y":0},{"f":17,"x":5.735,"y":0.13},{"f":17,"x":6,"y":0},
{"f":18,"x":2.148,"y":0},{"f":18,"x":2.315,"y":0.13},{"f":18,"x":2.482,"y":0},{"f":18,"x":2.6595,"y":-0.16},{"f":18,"x":2.837,"y":0},{"f":18,"x":3.027,"y":0.23},{"f":18,"x":3.217,"y":0},{"f":18,"x":3.4205,"y":-0.38},{"f":18,"x":3.624,"y":0},{"f":18,"x":3.8375,"y":1.15},{"f":18,"x":4.051,"y":1.8},{"f":18,"x":4.275,"y":1.15},{"f":18,"x":4.499,"y":0},{"f":18,"x":4.736,"y":-0.38},{"f":18,"x":4.973,"y":0},{"f":18,"x":5.2215,"y":0.23},{"f":18,"x":5.47,"y":0},{"f":18,"x":5.735,"y":-0.16},{"f":18,"x":6,"y":0},
{"f":19,"x":2.482,"y":0},{"f":19,"x":2.6595,"y":0.12},{"f":19,"x":2.837,"y":0},{"f":19,"x":3.027,"y":-0.16},{"f":19,"x":3.217,"y":0},{"f":19,"x":3.4205,"y":0.22},{"f":19,"x":3.624,"y":0},{"f":19,"x":3.8375,"y":-0.37},{"f":19,"x":4.051,"y":0},{"f":19,"x":4.275,"y":1.12},{"f":19,"x":4.499,"y":1.76},{"f":19,"x":4.736,"y":1.12},{"f":19,"x":4.973,"y":0},{"f":19,"x":5.2215,"y":-0.37},{"f":19,"x":5.47,"y":0},{"f":19,"x":5.735,"y":0.22},{"f":19,"x":6,"y":0},
{"f":20,"x":2.837,"y":0},{"f":20,"x":3.027,"y":0.12},{"f":20,"x":3.217,"y":0},{"f":20,"x":3.4205,"y":-0.16},{"f":20,"x":3.624,"y":0},{"f":20,"x":3.8375,"y":0.22},{"f":20,"x":4.051,"y":0},{"f":20,"x":4.275,"y":-0.36},{"f":20,"x":4.499,"y":0},{"f":20,"x":4.736,"y":1.1},{"f":20,"x":4.973,"y":1.72},{"f":20,"x":5.2215,"y":1.1},{"f":20,"x":5.47,"y":0},{"f":20,"x":5.735,"y":-0.36},{"f":20,"x":6,"y":0},
{"f":21,"x":3.217,"y":0},{"f":21,"x":3.4205,"y":0.12},{"f":21,"x":3.624,"y":0},{"f":21,"x":3.8375,"y":-0.15},{"f":21,"x":4.051,"y":0},{"f":21,"x":4.275,"y":0.21},{"f":21,"x":4.499,"y":0},{"f":21,"x":4.736,"y":-0.36},{"f":21,"x":4.973,"y":0},{"f":21,"x":5.2215,"y":1.07},{"f":21,"x":5.47,"y":1.68},{"f":21,"x":5.735,"y":1.07},{"f":21,"x":6,"y":0},
{"f":22,"x":3.624,"y":0},{"f":22,"x":3.8375,"y":0.12},{"f":22,"x":4.051,"y":0},{"f":22,"x":4.275,"y":-0.15},{"f":22,"x":4.499,"y":0},{"f":22,"x":4.736,"y":0.21},{"f":22,"x":4.973,"y":0},{"f":22,"x":5.2215,"y":-0.35},{"f":22,"x":5.47,"y":0},{"f":22,"x":5.735,"y":1.1},{"f":22,"x":6,"y":1.65}
],
"cg": [{"x":0.015,"y":0},{"x":0.065,"y":0},{"x":0.13,"y":0},{"x":0.224,"y":0},{"x":0.34,"y":0},{"x":0.48,"y":0},{"x":0.645,"y":0},{"x":0.837,"y":0},{"x":1.05,"y":0},{"x":1.29,"y":0},{"x":1.552,"y":0},{"x":1.84,"y":0},{"x":2.148,"y":0},{"x":2.482,"y":0},{"x":2.837,"y":0},{"x":3.217,"y":0},{"x":3.624,"y":0},{"x":4.051,"y":0},{"x":4.499,"y":0},{"x":4.973,"y":0},{"x":5.47,"y":0},{"x":6,"y":0}],
"e": [
{"f":1,"x":0,"y":0},{"f":1,"x":0.0402,"y":2.19},{"f":1,"x":0.0805,"y":2.74},{"f":1,"x":0.1709,"y":1.5},{"f":1,"x":0.2612,"y":0},{"f":1,"x":0.3917,"y":-0.52},{"f":1,"x":0.5221,"y":0},{"f":1,"x":0.6784,"y":0.3},{"f":1,"x":0.8347,"y":0},{"f":1,"x":1,"y":-0.2},{"f":1,"x":1.1653,"y":0},{"f":1,"x":1.3216,"y":0.14},{"f":1,"x":1.4779,"y":0},{"f":1,"x":1.6083,"y":-0.11},{"f":1,"x":1.7388,"y":0},{"f":1,"x":1.8291,"y":0.08},{"f":1,"x":1.9195,"y":0},{"f":1,"x":1.9598,"y":-0.05},{"f":1,"x":2,"y":0},
{"f":2,"x":0,"y":0},{"f":2,"x":0.0402,"y":-0.4},{"f":2,"x":0.0805,"y":0},{"f":2,"x":0.1709,"y":1.5},{"f":2,"x":0.2612,"y":2.11},{"f":2,"x":0.3917,"y":1.25},{"f":2,"x":0.5221,"y":0},{"f":2,"x":0.6784,"y":-0.43},{"f":2,"x":0.8347,"y":0},{"f":2,"x":1,"y":0.25},{"f":2,"x":1.1653,"y":0},{"f":2,"x":1.3216,"y":-0.17},{"f":2,"x":1.4779,"y":0},{"f":2,"x":1.6083,"y":0.12},{"f":2,"x":1.7388,"y":0},{"f":2,"x":1.8291,"y":-0.09},{"f":2,"x":1.9195,"y":0},{"f":2,"x":1.9598,"y":0.05},{"f":2,"x":2,"y":0},
{"f":3,"x":0,"y":0},{"f":3,"x":0.0402,"y":0.18},{"f":3,"x":0.0805,"y":0},{"f":3,"x":0.1709,"y":-0.38},{"f":3,"x":0.2612,"y":0},{"f":3,"x":0.3917,"y":1.25},{"f":3,"x":0.5221,"y":1.85},{"f":3,"x":0.6784,"y":1.14},{"f":3,"x":0.8347,"y":0},{"f":3,"x":1,"y":-0.38},{"f":3,"x":1.1653,"y":0},{"f":3,"x":1.3216,"y":0.22},{"f":3,"x":1.4779,"y":0},{"f":3,"x":1.6083,"y":-0.15},{"f":3,"x":1.7388,"y":0},{"f":3,"x":1.8291,"y":0.1},{"f":3,"x":1.9195,"y":0},{"f":3,"x":1.9598,"y":-0.06},{"f":3,"x":2,"y":0},
{"f":4,"x":0,"y":0},{"f":4,"x":0.0402,"y":-0.11},{"f":4,"x":0.0805,"y":0},{"f":4,"x":0.1709,"y":0.2},{"f":4,"x":0.2612,"y":0},{"f":4,"x":0.3917,"y":-0.37},{"f":4,"x":0.5221,"y":0},{"f":4,"x":0.6784,"y":1.14},{"f":4,"x":0.8347,"y":1.75},{"f":4,"x":1,"y":1.11},{"f":4,"x":1.1653,"y":0},{"f":4,"x":1.3216,"y":-0.37},{"f":4,"x":1.4779,"y":0},{"f":4,"x":1.6083,"y":0.21},{"f":4,"x":1.7388,"y":0},{"f":4,"x":1.8291,"y":-0.14},{"f":4,"x":1.9195,"y":0},{"f":4,"x":1.9598,"y":0.08},{"f":4,"x":2,"y":0},
{"f":5,"x":0,"y":0},{"f":5,"x":0.0402,"y":0.08},{"f":5,"x":0.0805,"y":0},{"f":5,"x":0.1709,"y":-0.14},{"f":5,"x":0.2612,"y":0},{"f":5,"x":0.3917,"y":0.21},{"f":5,"x":0.5221,"y":0},{"f":5,"x":0.6784,"y":-0.37},{"f":5,"x":0.8347,"y":0},{"f":5,"x":1,"y":1.11},{"f":5,"x":1.1653,"y":1.75},{"f":5,"x":1.3216,"y":1.14},{"f":5,"x":1.4779,"y":0},{"f":5,"x":1.6083,"y":-0.37},{"f":5,"x":1.7388,"y":0},{"f":5,"x":1.8291,"y":0.2},{"f":5,"x":1.9195,"y":0},{"f":5,"x":1.9598,"y":-0.11},{"f":5,"x":2,"y":0},
{"f":6,"x":0,"y":0},{"f":6,"x":0.0402,"y":-0.06},{"f":6,"x":0.0805,"y":0},{"f":6,"x":0.1709,"y":0.1},{"f":6,"x":0.2612,"y":0},{"f":6,"x":0.3917,"y":-0.15},{"f":6,"x":0.5221,"y":0},{"f":6,"x":0.6784,"y":0.22},{"f":6,"x":0.8347,"y":0},{"f":6,"x":1,"y":-0.38},{"f":6,"x":1.1653,"y":0},{"f":6,"x":1.3216,"y":1.14},{"f":6,"x":1.4779,"y":1.85},{"f":6,"x":1.6083,"y":1.25},{"f":6,"x":1.7388,"y":0},{"f":6,"x":1.8291,"y":-0.38},{"f":6,"x":1.9195,"y":0},{"f":6,"x":1.9598,"y":0.18},{"f":6,"x":2,"y":0},
{"f":7,"x":0,"y":0},{"f":7,"x":0.0402,"y":0.05},{"f":7,"x":0.0805,"y":0},{"f":7,"x":0.1709,"y":-0.09},{"f":7,"x":0.2612,"y":0},{"f":7,"x":0.3917,"y":0.12},{"f":7,"x":0.5221,"y":0},{"f":7,"x":0.6784,"y":-0.17},{"f":7,"x":0.8347,"y":0},{"f":7,"x":1,"y":0.25},{"f":7,"x":1.1653,"y":0},{"f":7,"x":1.3216,"y":-0.43},{"f":7,"x":1.4779,"y":0},{"f":7,"x":1.6083,"y":1.25},{"f":7,"x":1.7388,"y":2.11},{"f":7,"x":1.8291,"y":1.5},{"f":7,"x":1.9195,"y":0},{"f":7,"x":1.9598,"y":-0.4},{"f":7,"x":2,"y":0},
{"f":8,"x":0,"y":0},{"f":8,"x":0.0402,"y":-0.05},{"f":8,"x":0.0805,"y":0},{"f":8,"x":0.1709,"y":0.08},{"f":8,"x":0.2612,"y":0},{"f":8,"x":0.3917,"y":-0.11},{"f":8,"x":0.5221,"y":0},{"f":8,"x":0.6784,"y":0.14},{"f":8,"x":0.8347,"y":0},{"f":8,"x":1,"y":-0.2},{"f":8,"x":1.1653,"y":0},{"f":8,"x":1.3216,"y":0.3},{"f":8,"x":1.4779,"y":0},{"f":8,"x":1.6083,"y":-0.52},{"f":8,"x":1.7388,"y":0},{"f":8,"x":1.8291,"y":1.5},{"f":8,"x":1.9195,"y":2.74},{"f":8,"x":1.9598,"y":2.19},{"f":8,"x":2,"y":0},
{"f":9,"x":0,"y":0},{"f":9,"x":0.0402,"y":0.03},{"f":9,"x":0.0805,"y":0},{"f":9,"x":0.1709,"y":-0.05},{"f":9,"x":0.2612,"y":0},{"f":9,"x":0.3917,"y":0.07},{"f":9,"x":0.5221,"y":0},{"f":9,"x":0.6784,"y":-0.1},{"f":9,"x":0.8347,"y":0},{"f":9,"x":1,"y":0.13},{"f":9,"x":1.1653,"y":0},{"f":9,"x":1.3216,"y":-0.19},{"f":9,"x":1.4779,"y":0},{"f":9,"x":1.6083,"y":0.29},{"f":9,"x":1.7388,"y":0},{"f":9,"x":1.8291,"y":-0.56},{"f":9,"x":1.9195,"y":0},{"f":9,"x":1.9598,"y":1.55},{"f":9,"x":2,"y":4.74},{"f":9,"x":2.0402,"y":1.55},{"f":9,"x":2.0805,"y":0},{"f":9,"x":2.1709,"y":-0.56},{"f":9,"x":2.2612,"y":0},{"f":9,"x":2.3917,"y":0.29},{"f":9,"x":2.5221,"y":0},{"f":9,"x":2.6784,"y":-0.19},{"f":9,"x":2.8347,"y":0},{"f":9,"x":3,"y":0.13},{"f":9,"x":3.1653,"y":0},{"f":9,"x":3.3216,"y":-0.1},{"f":9,"x":3.4779,"y":0},{"f":9,"x":3.6083,"y":0.07},{"f":9,"x":3.7388,"y":0},{"f":9,"x":3.8291,"y":-0.05},{"f":9,"x":3.9195,"y":0},{"f":9,"x":3.9598,"y":0.03},{"f":9,"x":4,"y":0},
{"f":10,"x":2,"y":0},{"f":10,"x":2.0402,"y":2.19},{"f":10,"x":2.0805,"y":2.74},{"f":10,"x":2.1709,"y":1.5},{"f":10,"x":2.2612,"y":0},{"f":10,"x":2.3917,"y":-0.52},{"f":10,"x":2.5221,"y":0},{"f":10,"x":2.6784,"y":0.3},{"f":10,"x":2.8347,"y":0},{"f":10,"x":3,"y":-0.2},{"f":10,"x":3.1653,"y":0},{"f":10,"x":3.3216,"y":0.14},{"f":10,"x":3.4779,"y":0},{"f":10,"x":3.6083,"y":-0.11},{"f":10,"x":3.7388,"y":0},{"f":10,"x":3.8291,"y":0.08},{"f":10,"x":3.9195,"y":0},{"f":10,"x":3.9598,"y":-0.05},{"f":10,"x":4,"y":0},
{"f":11,"x":2,"y":0},{"f":11,"x":2.0402,"y":-0.4},{"f":11,"x":2.0805,"y":0},{"f":11,"x":2.1709,"y":1.5},{"f":11,"x":2.2612,"y":2.11},{"f":11,"x":2.3917,"y":1.25},{"f":11,"x":2.5221,"y":0},{"f":11,"x":2.6784,"y":-0.43},{"f":11,"x":2.8347,"y":0},{"f":11,"x":3,"y":0.25},{"f":11,"x":3.1653,"y":0},{"f":11,"x":3.3216,"y":-0.17},{"f":11,"x":3.4779,"y":0},{"f":11,"x":3.6083,"y":0.12},{"f":11,"x":3.7388,"y":0},{"f":11,"x":3.8291,"y":-0.09},{"f":11,"x":3.9195,"y":0},{"f":11,"x":3.9598,"y":0.05},{"f":11,"x":4,"y":0},
{"f":12,"x":2,"y":0},{"f":12,"x":2.0402,"y":0.18},{"f":12,"x":2.0805,"y":0},{"f":12,"x":2.1709,"y":-0.38},{"f":12,"x":2.2612,"y":0},{"f":12,"x":2.3917,"y":1.25},{"f":12,"x":2.5221,"y":1.85},{"f":12,"x":2.6784,"y":1.14},{"f":12,"x":2.8347,"y":0},{"f":12,"x":3,"y":-0.38},{"f":12,"x":3.1653,"y":0},{"f":12,"x":3.3216,"y":0.22},{"f":12,"x":3.4779,"y":0},{"f":12,"x":3.6083,"y":-0.15},{"f":12,"x":3.7388,"y":0},{"f":12,"x":3.8291,"y":0.1},{"f":12,"x":3.9195,"y":0},{"f":12,"x":3.9598,"y":-0.06},{"f":12,"x":4,"y":0},
{"f":13,"x":2,"y":0},{"f":13,"x":2.0402,"y":-0.11},{"f":13,"x":2.0805,"y":0},{"f":13,"x":2.1709,"y":0.2},{"f":13,"x":2.2612,"y":0},{"f":13,"x":2.3917,"y":-0.37},{"f":13,"x":2.5221,"y":0},{"f":13,"x":2.6784,"y":1.14},{"f":13,"x":2.8347,"y":1.75},{"f":13,"x":3,"y":1.11},{"f":13,"x":3.1653,"y":0},{"f":13,"x":3.3216,"y":-0.37},{"f":13,"x":3.4779,"y":0},{"f":13,"x":3.6083,"y":0.21},{"f":13,"x":3.7388,"y":0},{"f":13,"x":3.8291,"y":-0.14},{"f":13,"x":3.9195,"y":0},{"f":13,"x":3.9598,"y":0.08},{"f":13,"x":4,"y":0},
{"f":14,"x":2,"y":0},{"f":14,"x":2.0402,"y":0.08},{"f":14,"x":2.0805,"y":0},{"f":14,"x":2.1709,"y":-0.14},{"f":14,"x":2.2612,"y":0},{"f":14,"x":2.3917,"y":0.21},{"f":14,"x":2.5221,"y":0},{"f":14,"x":2.6784,"y":-0.37},{"f":14,"x":2.8347,"y":0},{"f":14,"x":3,"y":1.11},{"f":14,"x":3.1653,"y":1.75},{"f":14,"x":3.3216,"y":1.14},{"f":14,"x":3.4779,"y":0},{"f":14,"x":3.6083,"y":-0.37},{"f":14,"x":3.7388,"y":0},{"f":14,"x":3.8291,"y":0.2},{"f":14,"x":3.9195,"y":0},{"f":14,"x":3.9598,"y":-0.11},{"f":14,"x":4,"y":0},
{"f":15,"x":2,"y":0},{"f":15,"x":2.0402,"y":-0.06},{"f":15,"x":2.0805,"y":0},{"f":15,"x":2.1709,"y":0.1},{"f":15,"x":2.2612,"y":0},{"f":15,"x":2.3917,"y":-0.15},{"f":15,"x":2.5221,"y":0},{"f":15,"x":2.6784,"y":0.22},{"f":15,"x":2.8347,"y":0},{"f":15,"x":3,"y":-0.38},{"f":15,"x":3.1653,"y":0},{"f":15,"x":3.3216,"y":1.14},{"f":15,"x":3.4779,"y":1.85},{"f":15,"x":3.6083,"y":1.25},{"f":15,"x":3.7388,"y":0},{"f":15,"x":3.8291,"y":-0.38},{"f":15,"x":3.9195,"y":0},{"f":15,"x":3.9598,"y":0.18},{"f":15,"x":4,"y":0},
{"f":16,"x":2,"y":0},{"f":16,"x":2.0402,"y":0.05},{"f":16,"x":2.0805,"y":0},{"f":16,"x":2.1709,"y":-0.09},{"f":16,"x":2.2612,"y":0},{"f":16,"x":2.3917,"y":0.12},{"f":16,"x":2.5221,"y":0},{"f":16,"x":2.6784,"y":-0.17},{"f":16,"x":2.8347,"y":0},{"f":16,"x":3,"y":0.25},{"f":16,"x":3.1653,"y":0},{"f":16,"x":3.3216,"y":-0.43},{"f":16,"x":3.4779,"y":0},{"f":16,"x":3.6083,"y":1.25},{"f":16,"x":3.7388,"y":2.11},{"f":16,"x":3.8291,"y":1.5},{"f":16,"x":3.9195,"y":0},{"f":16,"x":3.9598,"y":-0.4},{"f":16,"x":4,"y":0},
{"f":17,"x":2,"y":0},{"f":17,"x":2.0402,"y":-0.05},{"f":17,"x":2.0805,"y":0},{"f":17,"x":2.1709,"y":0.08},{"f":17,"x":2.2612,"y":0},{"f":17,"x":2.3917,"y":-0.11},{"f":17,"x":2.5221,"y":0},{"f":17,"x":2.6784,"y":0.14},{"f":17,"x":2.8347,"y":0},{"f":17,"x":3,"y":-0.2},{"f":17,"x":3.1653,"y":0},{"f":17,"x":3.3216,"y":0.3},{"f":17,"x":3.4779,"y":0},{"f":17,"x":3.6083,"y":-0.52},{"f":17,"x":3.7388,"y":0},{"f":17,"x":3.8291,"y":1.5},{"f":17,"x":3.9195,"y":2.74},{"f":17,"x":3.9598,"y":2.19},{"f":17,"x":4,"y":0},
{"f":18,"x":2,"y":0},{"f":18,"x":2.0402,"y":0.03},{"f":18,"x":2.0805,"y":0},{"f":18,"x":2.1709,"y":-0.05},{"f":18,"x":2.2612,"y":0},{"f":18,"x":2.3917,"y":0.07},{"f":18,"x":2.5221,"y":0},{"f":18,"x":2.6784,"y":-0.1},{"f":18,"x":2.8347,"y":0},{"f":18,"x":3,"y":0.13},{"f":18,"x":3.1653,"y":0},{"f":18,"x":3.3216,"y":-0.19},{"f":18,"x":3.4779,"y":0},{"f":18,"x":3.6083,"y":0.29},{"f":18,"x":3.7388,"y":0},{"f":18,"x":3.8291,"y":-0.56},{"f":18,"x":3.9195,"y":0},{"f":18,"x":3.9598,"y":1.55},{"f":18,"x":4,"y":4.74},{"f":18,"x":4.0402,"y":1.55},{"f":18,"x":4.0805,"y":0},{"f":18,"x":4.1709,"y":-0.56},{"f":18,"x":4.2612,"y":0},{"f":18,"x":4.3917,"y":0.29},{"f":18,"x":4.5221,"y":0},{"f":18,"x":4.6784,"y":-0.19},{"f":18,"x":4.8347,"y":0},{"f":18,"x":5,"y":0.13},{"f":18,"x":5.1653,"y":0},{"f":18,"x":5.3216,"y":-0.1},{"f":18,"x":5.4779,"y":0},{"f":18,"x":5.6083,"y":0.07},{"f":18,"x":5.7388,"y":0},{"f":18,"x":5.8291,"y":-0.05},{"f":18,"x":5.9195,"y":0},{"f":18,"x":5.9598,"y":0.03},{"f":18,"x":6,"y":0},
{"f":19,"x":4,"y":0},{"f":19,"x":4.0402,"y":2.19},{"f":19,"x":4.0805,"y":2.74},{"f":19,"x":4.1709,"y":1.5},{"f":19,"x":4.2612,"y":0},{"f":19,"x":4.3917,"y":-0.52},{"f":19,"x":4.5221,"y":0},{"f":19,"x":4.6784,"y":0.3},{"f":19,"x":4.8347,"y":0},{"f":19,"x":5,"y":-0.2},{"f":19,"x":5.1653,"y":0},{"f":19,"x":5.3216,"y":0.14},{"f":19,"x":5.4779,"y":0},{"f":19,"x":5.6083,"y":-0.11},{"f":19,"x":5.7388,"y":0},{"f":19,"x":5.8291,"y":0.08},{"f":19,"x":5.9195,"y":0},{"f":19,"x":5.9598,"y":-0.05},{"f":19,"x":6,"y":0},
{"f":20,"x":4,"y":0},{"f":20,"x":4.0402,"y":-0.4},{"f":20,"x":4.0805,"y":0},{"f":20,"x":4.1709,"y":1.5},{"f":20,"x":4.2612,"y":2.11},{"f":20,"x":4.3917,"y":1.25},{"f":20,"x":4.5221,"y":0},{"f":20,"x":4.6784,"y":-0.43},{"f":20,"x":4.8347,"y":0},{"f":20,"x":5,"y":0.25},{"f":20,"x":5.1653,"y":0},{"f":20,"x":5.3216,"y":-0.17},{"f":20,"x":5.4779,"y":0},{"f":20,"x":5.6083,"y":0.12},{"f":20,"x":5.7388,"y":0},{"f":20,"x":5.8291,"y":-0.09},{"f":20,"x":5.9195,"y":0},{"f":20,"x":5.9598,"y":0.05},{"f":20,"x":6,"y":0},
{"f":21,"x":4,"y":0},{"f":21,"x":4.0402,"y":0.18},{"f":21,"x":4.0805,"y":0},{"f":21,"x":4.1709,"y":-0.38},{"f":21,"x":4.2612,"y":0},{"f":21,"x":4.3917,"y":1.25},{"f":21,"x":4.5221,"y":1.85},{"f":21,"x":4.6784,"y":1.14},{"f":21,"x":4.8347,"y":0},{"f":21,"x":5,"y":-0.38},{"f":21,"x":5.1653,"y":0},{"f":21,"x":5.3216,"y":0.22},{"f":21,"x":5.4779,"y":0},{"f":21,"x":5.6083,"y":-0.15},{"f":21,"x":5.7388,"y":0},{"f":21,"x":5.8291,"y":0.1},{"f":21,"x":5.9195,"y":0},{"f":21,"x":5.9598,"y":-0.06},{"f":21,"x":6,"y":0},
{"f":22,"x":4,"y":0},{"f":22,"x":4.0402,"y":-0.11},{"f":22,"x":4.0805,"y":0},{"f":22,"x":4.1709,"y":0.2},{"f":22,"x":4.2612,"y":0},{"f":22,"x":4.3917,"y":-0.37},{"f":22,"x":4.5221,"y":0},{"f":22,"x":4.6784,"y":1.14},{"f":22,"x":4.8347,"y":1.75},{"f":22,"x":5,"y":1.11},{"f":22,"x":5.1653,"y":0},{"f":22,"x":5.3216,"y":-0.37},{"f":22,"x":5.4779,"y":0},{"f":22,"x":5.6083,"y":0.21},{"f":22,"x":5.7388,"y":0},{"f":22,"x":5.8291,"y":-0.14},{"f":22,"x":5.9195,"y":0},{"f":22,"x":5.9598,"y":0.08},{"f":22,"x":6,"y":0},
{"f":23,"x":4,"y":0},{"f":23,"x":4.0402,"y":0.08},{"f":23,"x":4.0805,"y":0},{"f":23,"x":4.1709,"y":-0.14},{"f":23,"x":4.2612,"y":0},{"f":23,"x":4.3917,"y":0.21},{"f":23,"x":4.5221,"y":0},{"f":23,"x":4.6784,"y":-0.37},{"f":23,"x":4.8347,"y":0},{"f":23,"x":5,"y":1.11},{"f":23,"x":5.1653,"y":1.75},{"f":23,"x":5.3216,"y":1.14},{"f":23,"x":5.4779,"y":0},{"f":23,"x":5.6083,"y":-0.37},{"f":23,"x":5.7388,"y":0},{"f":23,"x":5.8291,"y":0.2},{"f":23,"x":5.9195,"y":0},{"f":23,"x":5.9598,"y":-0.11},{"f":23,"x":6,"y":0},
{"f":24,"x":4,"y":0},{"f":24,"x":4.0402,"y":-0.06},{"f":24,"x":4.0805,"y":0},{"f":24,"x":4.1709,"y":0.1},{"f":24,"x":4.2612,"y":0},{"f":24,"x":4.3917,"y":-0.15},{"f":24,"x":4.5221,"y":0},{"f":24,"x":4.6784,"y":0.22},{"f":24,"x":4.8347,"y":0},{"f":24,"x":5,"y":-0.38},{"f":24,"x":5.1653,"y":0},{"f":24,"x":5.3216,"y":1.14},{"f":24,"x":5.4779,"y":1.85},{"f":24,"x":5.6083,"y":1.25},{"f":24,"x":5.7388,"y":0},{"f":24,"x":5.8291,"y":-0.38},{"f":24,"x":5.9195,"y":0},{"f":24,"x":5.9598,"y":0.18},{"f":24,"x":6,"y":0},
{"f":25,"x":4,"y":0},{"f":25,"x":4.0402,"y":0.05},{"f":25,"x":4.0805,"y":0},{"f":25,"x":4.1709,"y":-0.09},{"f":25,"x":4.2612,"y":0},{"f":25,"x":4.3917,"y":0.12},{"f":25,"x":4.5221,"y":0},{"f":25,"x":4.6784,"y":-0.17},{"f":25,"x":4.8347,"y":0},{"f":25,"x":5,"y":0.25},{"f":25,"x":5.1653,"y":0},{"f":25,"x":5.3216,"y":-0.43},{"f":25,"x":5.4779,"y":0},{"f":25,"x":5.6083,"y":1.25},{"f":25,"x":5.7388,"y":2.11},{"f":25,"x":5.8291,"y":1.5},{"f":25,"x":5.9195,"y":0},{"f":25,"x":5.9598,"y":-0.4},{"f":25,"x":6,"y":0},
{"f":26,"x":4,"y":0},{"f":26,"x":4.0402,"y":-0.05},{"f":26,"x":4.0805,"y":0},{"f":26,"x":4.1709,"y":0.08},{"f":26,"x":4.2612,"y":0},{"f":26,"x":4.3917,"y":-0.11},{"f":26,"x":4.5221,"y":0},{"f":26,"x":4.6784,"y":0.14},{"f":26,"x":4.8347,"y":0},{"f":26,"x":5,"y":-0.2},{"f":26,"x":5.1653,"y":0},{"f":26,"x":5.3216,"y":0.3},{"f":26,"x":5.4779,"y":0},{"f":26,"x":5.6083,"y":-0.52},{"f":26,"x":5.7388,"y":0},{"f":26,"x":5.8291,"y":1.5},{"f":26,"x":5.9195,"y":2.74},{"f":26,"x":5.9598,"y":2.19},{"f":26,"x":6,"y":0},
{"f":27,"x":4,"y":0},{"f":27,"x":4.0402,"y":0.03},{"f":27,"x":4.0805,"y":0},{"f":27,"x":4.1709,"y":-0.05},{"f":27,"x":4.2612,"y":0},{"f":27,"x":4.3917,"y":0.07},{"f":27,"x":4.5221,"y":0},{"f":27,"x":4.6784,"y":-0.1},{"f":27,"x":4.8347,"y":0},{"f":27,"x":5,"y":0.13},{"f":27,"x":5.1653,"y":0},{"f":27,"x":5.3216,"y":-0.19},{"f":27,"x":5.4779,"y":0},{"f":27,"x":5.6083,"y":0.29},{"f":27,"x":5.7388,"y":0},{"f":27,"x":5.8291,"y":-0.56},{"f":27,"x":5.9195,"y":0},{"f":27,"x":5.9598,"y":1.55},{"f":27,"x":6,"y":4.74}
],
"eg": [{"x":0.0805,"y":0},{"x":0.2612,"y":0},{"x":0.5221,"y":0},{"x":0.8347,"y":0},{"x":1.1653,"y":0},{"x":1.4779,"y":0},{"x":1.7388,"y":0},{"x":1.9195,"y":0},{"x":2,"y":0},{"x":2.0805,"y":0},{"x":2.2612,"y":0},{"x":2.5221,"y":0},{"x":2.8347,"y":0},{"x":3.1653,"y":0},{"x":3.4779,"y":0},{"x":3.7388,"y":0},{"x":3.9195,"y":0},{"x":4,"y":0},{"x":4.0805,"y":0},{"x":4.2612,"y":0},{"x":4.5221,"y":0},{"x":4.8347,"y":0},{"x":5.1653,"y":0},{"x":5.4779,"y":0},{"x":5.7388,"y":0},{"x":5.9195,"y":0},{"x":6,"y":0}]
},
"spacing": 29,
"bounds": "flush",
"vconcat": [
 {"width": 688, "height": 208,
  "layer": [
   {"data": {"name": "s"}, "mark": {"type": "line", "interpolate": "monotone", "color": "#ff0000", "strokeWidth": 2},
    "encoding": {
     "x": {"field": "x", "type": "quantitative", "scale": {"domain": [0, 6], "nice": false}, "axis": {"orient": "bottom", "values": [0,1,2,3,4,5,6], "labels": false, "title": null}},
     "y": {"field": "y", "type": "quantitative", "scale": {"domain": [-1, 3], "nice": false}, "axis": {"orient": "left", "values": [0,1,2,3], "title": null, "labelPadding": 25}},
     "detail": {"field": "f", "type": "nominal"}}},
   {"data": {"name": "sg"}, "mark": {"type": "circle", "color": "#000", "size": 110, "opacity": 1},
    "encoding": {
     "x": {"field": "x", "type": "quantitative", "axis": {"orient": "top", "values": [0,1,2,3,4,5,6], "labels": false, "title": null}},
     "y": {"field": "y", "type": "quantitative", "axis": {"orient": "right", "values": [0,1,2,3], "labels": false, "title": null}}}},
   {"data": {"values": [{}]}, "mark": {"type": "text", "text": "Sine DVR", "align": "right", "baseline": "alphabetic", "fontSize": 24, "font": "Liberation Serif", "color": "#000"},
    "encoding": {"x": {"datum": 5.63, "type": "quantitative", "axis": null}, "y": {"datum": 2.32, "type": "quantitative", "axis": null}}}
  ],
  "resolve": {"axis": {"x": "independent", "y": "independent"}}},
 {"width": 688, "height": 208,
  "layer": [
   {"data": {"name": "c"}, "mark": {"type": "line", "interpolate": "monotone", "color": "#1a5cff", "strokeWidth": 2},
    "encoding": {
     "x": {"field": "x", "type": "quantitative", "scale": {"domain": [0, 6], "nice": false}, "axis": {"orient": "bottom", "values": [0,1,2,3,4,5,6], "labels": false, "title": null}},
     "y": {"field": "y", "type": "quantitative", "scale": {"domain": [-2, 8], "nice": false}, "axis": {"orient": "left", "values": [0,4,8], "title": "radial function\u00a0\u00a0χ(r)", "titlePadding": 53, "labelPadding": 25}},
     "detail": {"field": "f", "type": "nominal"}}},
   {"data": {"name": "cg"}, "mark": {"type": "circle", "color": "#000", "size": 110, "opacity": 1},
    "encoding": {
     "x": {"field": "x", "type": "quantitative", "axis": {"orient": "top", "values": [0,1,2,3,4,5,6], "labels": false, "title": null}},
     "y": {"field": "y", "type": "quantitative", "axis": {"orient": "right", "values": [0,4,8], "labels": false, "title": null}}}},
   {"data": {"values": [{}]}, "mark": {"type": "text", "text": "Coulomb-wave DVR", "align": "right", "baseline": "alphabetic", "fontSize": 24, "font": "Liberation Serif", "color": "#000"},
    "encoding": {"x": {"datum": 5.717, "type": "quantitative", "axis": null}, "y": {"datum": 6.22, "type": "quantitative", "axis": null}}}
  ],
  "resolve": {"axis": {"x": "independent", "y": "independent"}}},
 {"width": 688, "height": 208,
  "layer": [
   {"data": {"name": "e"}, "mark": {"type": "line", "interpolate": "monotone", "color": "#0d800d", "strokeWidth": 2},
    "encoding": {
     "x": {"field": "x", "type": "quantitative", "scale": {"domain": [0, 6], "nice": false}, "axis": {"orient": "bottom", "values": [0,1,2,3,4,5,6], "title": "radius\u00a0\u00a0r\u00a0\u00a0[\u2009Bohr\u2009]", "labelPadding": 20, "titlePadding": 30}},
     "y": {"field": "y", "type": "quantitative", "scale": {"domain": [-2, 6], "nice": false}, "axis": {"orient": "left", "values": [-2,0,2,4,6], "title": null, "labelPadding": 25}},
     "detail": {"field": "f", "type": "nominal"}}},
   {"data": {"name": "eg"}, "mark": {"type": "circle", "color": "#000", "size": 110, "opacity": 1},
    "encoding": {
     "x": {"field": "x", "type": "quantitative", "axis": {"orient": "top", "values": [0,1,2,3,4,5,6], "labels": false, "title": null}},
     "y": {"field": "y", "type": "quantitative", "axis": {"orient": "right", "values": [-2,0,2,4,6], "labels": false, "title": null}}}},
   {"data": {"values": [{}]}, "mark": {"type": "text", "text": "Finite-element DVR", "align": "right", "baseline": "alphabetic", "fontSize": 24, "font": "Liberation Serif", "color": "#000"},
    "encoding": {"x": {"datum": 5.847, "type": "quantitative", "axis": null}, "y": {"datum": 4.64, "type": "quantitative", "axis": null}}}
  ],
  "resolve": {"axis": {"x": "independent", "y": "independent"}}}
]
}
